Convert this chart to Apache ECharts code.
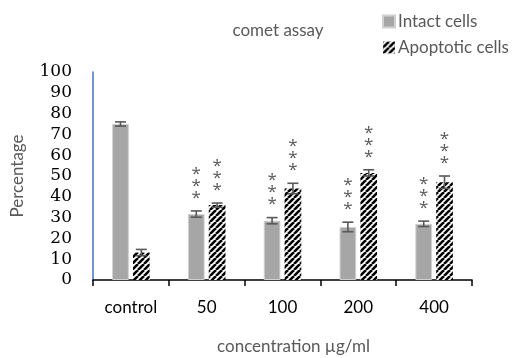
<!DOCTYPE html>
<html><head><meta charset="utf-8">
<script src="https://cdn.jsdelivr.net/npm/echarts@6/dist/echarts.min.js"></script>
<style>html,body{margin:0;padding:0;background:#fff}#c{width:525px;height:358px}</style>
</head><body><div id="c"></div>
<script>
const categories = ['control', '50', '100', '200', '400'];
const intact = [75, 31.7, 28.5, 25.5, 27];
const intactErr = [1, 1.5, 1.5, 2.3, 1.3];
const apoptotic = [13.2, 36, 44, 51.5, 47];
const apoptoticErr = [1.5, 1, 2.5, 1.5, 3];
const intactSig = ['', '***', '***', '***', '***'];
const apoptoticSig = ['', '***', '***', '***', '***'];
const yTicks = [0, 10, 20, 30, 40, 50, 60, 70, 80, 90, 100];

const BAR_FRAC = 0.22, GAP_FRAC = 0.25;
const SANS = 'Lato';

function hatch() {
  const c = document.createElement('canvas');
  c.width = 6; c.height = 6;
  const g = c.getContext('2d');
  g.fillStyle = '#fff'; g.fillRect(0, 0, 6, 6);
  g.strokeStyle = '#000'; g.lineWidth = 2.6;
  for (const o of [-6, 0, 6]) {
    g.beginPath(); g.moveTo(o, 6); g.lineTo(o + 6, 0); g.stroke();
  }
  return c;
}
const hatchPattern = { image: hatch(), repeat: 'repeat' };

function errSeries(vals, errs, sigs, side) {
  return {
    type: 'custom',
    z: 5,
    silent: true,
    data: vals.map((v, i) => [i, v, errs[i]]),
    renderItem: function (params, api) {
      const i = api.value(0), v = api.value(1), e = api.value(2);
      const band = api.size([1, 0])[0];
      const off = side * band * BAR_FRAC * (1 + GAP_FRAC) / 2;
      const c = api.coord([i, v]);
      const x = c[0] + off;
      const top = api.coord([i, v + e])[1];
      const bot = api.coord([i, v - e])[1];
      const w = 5.5;
      const st = { stroke: '#595959', lineWidth: 1.6 };
      const children = [
        { type: 'line', shape: { x1: x, y1: top, x2: x, y2: bot }, style: st },
        { type: 'line', shape: { x1: x - w, y1: top, x2: x + w, y2: top }, style: st },
        { type: 'line', shape: { x1: x - w, y1: bot, x2: x + w, y2: bot }, style: st }
      ];
      const sig = sigs[i];
      if (sig) {
        for (let k = 0; k < sig.length; k++) {
          children.push({
            type: 'text',
            style: {
              text: '*', x: x, y: top - 13 - k * 12,
              fill: '#595959', font: '17px "Open Sans"',
              align: 'center', verticalAlign: 'middle'
            }
          });
        }
      }
      return { type: 'group', children: children };
    }
  };
}

const chart = echarts.init(document.getElementById('c'));
chart.setOption({
  animation: false,
  title: {
    text: 'comet assay', left: 273, top: 17, textAlign: 'center',
    textStyle: { fontFamily: SANS, fontSize: 17, fontWeight: 'normal', color: '#595959' }
  },
  legend: {
    orient: 'vertical', left: 377, top: 8, itemWidth: 12, itemHeight: 12, itemGap: 9,
    icon: 'rect',
    textStyle: { fontFamily: SANS, fontSize: 17, color: '#595959', padding: [0, 0, 0, -2] },
    data: ['Intact cells', 'Apoptotic cells']
  },
  grid: { left: 93, right: 53, top: 72, bottom: 78, outerBoundsMode: 'none', containLabel: false },
  xAxis: {
    type: 'category', data: categories,
    name: 'concentration µg/ml', nameLocation: 'middle', nameGap: 58,
    nameTextStyle: { fontFamily: SANS, fontSize: 17, color: '#595959', padding: [0, 0, 0, 22] },
    axisLine: { lineStyle: { color: '#000', width: 1.5 } },
    axisTick: { show: true, length: 6, lineStyle: { color: '#000', width: 1.5 } },
    axisLabel: { fontFamily: SANS, fontSize: 17, color: '#000', margin: 19 }
  },
  yAxis: {
    type: 'value', min: yTicks[0], max: yTicks[yTicks.length - 1], interval: 10,
    name: 'Percentage', nameLocation: 'middle', nameGap: 67,
    nameTextStyle: { fontFamily: SANS, fontSize: 17, color: '#595959' },
    axisLine: { show: true, lineStyle: { color: '#4472C4', width: 1.5 } },
    axisTick: { show: false },
    splitLine: { show: false },
    axisLabel: { fontFamily: 'DejaVu Serif', fontSize: 17, color: '#000', margin: 21 }
  },
  series: [
    {
      name: 'Intact cells', type: 'bar', data: intact,
      barWidth: (BAR_FRAC * 100) + '%', barGap: (GAP_FRAC * 100) + '%',
      itemStyle: { color: '#a6a6a6', borderColor: '#d0d0d0', borderWidth: 1 }
    },
    {
      name: 'Apoptotic cells', type: 'bar', data: apoptotic,
      barWidth: (BAR_FRAC * 100) + '%',
      itemStyle: { color: hatchPattern }
    },
    errSeries(intact, intactErr, intactSig, -1),
    errSeries(apoptotic, apoptoticErr, apoptoticSig, 1)
  ]
});
</script></body></html>
